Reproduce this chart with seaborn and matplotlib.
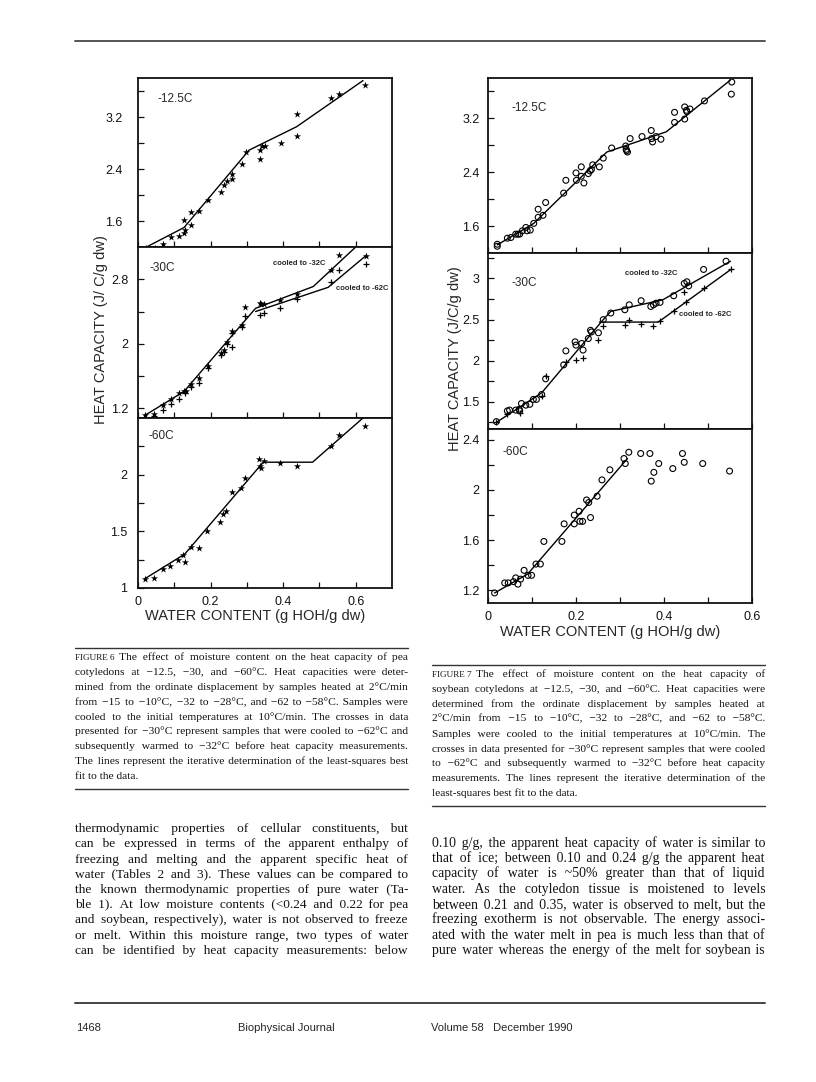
import numpy as np
import pandas as pd
import matplotlib
matplotlib.use("Agg")
import matplotlib.pyplot as plt
import seaborn as sns

sns.set_theme(style="white")
plt.rcParams['font.family'] = ['Liberation Sans', 'DejaVu Sans']

# ---------------- data ----------------
# FIGURE 6 (pea), -12.5C
pea12_x = [0.023, 0.046, 0.069, 0.090, 0.113, 0.127, 0.127, 0.130, 0.147, 0.147, 0.168, 0.193, 0.229,
           0.236, 0.245, 0.260, 0.260, 0.287, 0.297, 0.336, 0.337, 0.342, 0.349, 0.393, 0.438, 0.438,
           0.532, 0.555, 0.626]
pea12_y = [1.19, 1.18, 1.24, 1.36, 1.37, 1.61, 1.42, 1.46, 1.74, 1.54, 1.75, 1.92, 2.05,
           2.16, 2.21, 2.24, 2.33, 2.47, 2.66, 2.69, 2.56, 2.76, 2.75, 2.80, 3.25, 2.91,
           3.49, 3.55, 3.69]
pea12_fit_x = [0.020, 0.127, 0.306, 0.437, 0.620]
pea12_fit_y = [1.19, 1.50, 2.69, 3.05, 3.76]

# FIGURE 6, -30C  (stars: cooled to -32C, crosses: cooled to -62C)
pea30a_x = [0.018, 0.043, 0.069, 0.090, 0.113, 0.127, 0.131, 0.147, 0.168, 0.193, 0.229, 0.236,
            0.245, 0.260, 0.287, 0.296, 0.336, 0.340, 0.348, 0.391, 0.439, 0.531, 0.554, 0.628]
pea30a_y = [1.12, 1.13, 1.24, 1.31, 1.39, 1.41, 1.41, 1.50, 1.57, 1.73, 1.88, 1.92,
            2.02, 2.16, 2.23, 2.46, 2.51, 2.49, 2.49, 2.54, 2.62, 2.92, 3.10, 3.09]
pea30b_x = [0.043, 0.069, 0.090, 0.113, 0.129, 0.147, 0.168, 0.193, 0.229, 0.236, 0.245, 0.260,
            0.260, 0.287, 0.296, 0.337, 0.347, 0.391, 0.439, 0.531, 0.554, 0.628]
pea30b_y = [1.11, 1.18, 1.25, 1.31, 1.39, 1.46, 1.52, 1.70, 1.86, 1.90, 2.00, 1.96,
            2.14, 2.21, 2.35, 2.36, 2.38, 2.44, 2.55, 2.76, 2.91, 2.99]
pea30a_fit_x = [0.018, 0.127, 0.324, 0.483, 0.600]
pea30a_fit_y = [1.11, 1.41, 2.44, 2.71, 3.20]
pea30b_fit_x = [0.324, 0.524, 0.630]
pea30b_fit_y = [2.40, 2.70, 3.10]

# FIGURE 6, -60C
pea60_x = [0.018, 0.043, 0.069, 0.087, 0.110, 0.124, 0.129, 0.147, 0.168, 0.191, 0.227, 0.234,
           0.243, 0.259, 0.285, 0.295, 0.334, 0.337, 0.340, 0.347, 0.391, 0.437, 0.531, 0.554, 0.626]
pea60_y = [1.08, 1.09, 1.17, 1.19, 1.25, 1.29, 1.23, 1.36, 1.35, 1.50, 1.58, 1.65,
           1.68, 1.85, 1.88, 1.97, 2.14, 2.08, 2.06, 2.12, 2.10, 2.08, 2.25, 2.35, 2.43]
pea60_fit_x = [0.018, 0.129, 0.345, 0.481, 0.620]
pea60_fit_y = [1.08, 1.30, 2.11, 2.11, 2.50]

# FIGURE 7 (soybean), -12.5C
soy12_x = [0.021, 0.021, 0.044, 0.052, 0.063, 0.068, 0.072, 0.078, 0.086, 0.089, 0.096, 0.104,
           0.114, 0.114, 0.125, 0.131, 0.172, 0.177, 0.200, 0.201, 0.212, 0.212, 0.218, 0.228,
           0.232, 0.235, 0.238, 0.253, 0.262, 0.281, 0.313, 0.314, 0.315, 0.317, 0.323, 0.350,
           0.371, 0.372, 0.374, 0.382, 0.393, 0.424, 0.424, 0.447, 0.447, 0.451, 0.452, 0.459,
           0.492, 0.553, 0.554]
soy12_y = [1.30, 1.33, 1.42, 1.43, 1.48, 1.48, 1.48, 1.53, 1.58, 1.53, 1.54, 1.64,
           1.85, 1.73, 1.76, 1.95, 2.09, 2.28, 2.39, 2.28, 2.48, 2.34, 2.24, 2.38,
           2.42, 2.44, 2.51, 2.48, 2.61, 2.76, 2.79, 2.74, 2.72, 2.70, 2.90, 2.93,
           3.02, 2.90, 2.85, 2.93, 2.89, 3.14, 3.29, 3.37, 3.19, 3.32, 3.30, 3.34,
           3.46, 3.56, 3.74]
soy12_fit_x = [0.021, 0.104, 0.270, 0.405, 0.551]
soy12_fit_y = [1.32, 1.64, 2.70, 3.00, 3.77]

# FIGURE 7, -30C (circles: cooled to -32C, crosses: cooled to -62C)
soy30a_x = [0.019, 0.044, 0.049, 0.063, 0.071, 0.072, 0.076, 0.086, 0.095, 0.103, 0.110, 0.122,
            0.131, 0.172, 0.177, 0.198, 0.200, 0.213, 0.216, 0.228, 0.233, 0.235, 0.251, 0.262,
            0.279, 0.311, 0.321, 0.348, 0.370, 0.376, 0.382, 0.391, 0.422, 0.446, 0.452, 0.456,
            0.490, 0.541]
soy30a_y = [1.26, 1.39, 1.40, 1.40, 1.41, 1.39, 1.48, 1.46, 1.47, 1.53, 1.53, 1.59,
            1.78, 1.95, 2.12, 2.23, 2.19, 2.21, 2.13, 2.27, 2.37, 2.35, 2.34, 2.50,
            2.58, 2.62, 2.68, 2.73, 2.66, 2.68, 2.70, 2.71, 2.79, 2.94, 2.96, 2.91,
            3.11, 3.21]
soy30b_x = [0.019, 0.044, 0.072, 0.122, 0.131, 0.177, 0.201, 0.216, 0.251, 0.262, 0.311, 0.321,
            0.348, 0.375, 0.391, 0.422, 0.446, 0.450, 0.490, 0.553]
soy30b_y = [1.25, 1.35, 1.37, 1.57, 1.82, 1.99, 2.01, 2.03, 2.25, 2.42, 2.44, 2.49,
            2.45, 2.42, 2.48, 2.61, 2.84, 2.72, 2.88, 3.11]
soy30a_fit_x = [0.019, 0.122, 0.262, 0.279, 0.397, 0.551]
soy30a_fit_y = [1.25, 1.61, 2.50, 2.60, 2.74, 3.21]
soy30b_fit_x = [0.253, 0.387, 0.552]
soy30b_fit_y = [2.47, 2.47, 3.11]

# FIGURE 7, -60C
soy60_x = [0.015, 0.038, 0.046, 0.058, 0.063, 0.068, 0.074, 0.082, 0.091, 0.099, 0.109, 0.119,
           0.127, 0.168, 0.173, 0.196, 0.196, 0.207, 0.209, 0.215, 0.224, 0.229, 0.233, 0.248,
           0.259, 0.277, 0.309, 0.312, 0.320, 0.347, 0.368, 0.371, 0.377, 0.388, 0.420, 0.442,
           0.446, 0.488, 0.549]
soy60_y = [1.18, 1.26, 1.26, 1.27, 1.30, 1.25, 1.29, 1.36, 1.32, 1.32, 1.41, 1.41,
           1.59, 1.59, 1.73, 1.73, 1.80, 1.83, 1.75, 1.75, 1.92, 1.90, 1.78, 1.95,
           2.08, 2.16, 2.25, 2.21, 2.30, 2.29, 2.29, 2.07, 2.14, 2.21, 2.17, 2.29,
           2.22, 2.21, 2.15]
soy60_fit_x = [0.015, 0.090, 0.317]
soy60_fit_y = [1.18, 1.33, 2.25]

x_ticks = [0, 0.1, 0.2, 0.3, 0.4, 0.5, 0.6]
x_tick_labels = ['0', '', '0.2', '', '0.4', '', '0.6']

# ---------------- page layout ----------------
W, H = 816, 1082
fig = plt.figure(figsize=(W / 100, H / 100), dpi=100)
fig.patch.set_facecolor('white')


def fx(x):
    return x / W


def fy(y):
    return 1 - y / H


def make_ax(x0, y0, x1, y1, ypad=6):
    ax = fig.add_axes([fx(x0), fy(y1), (x1 - x0) / W, (y1 - y0) / H])
    ax.set_facecolor('white')
    for s in ax.spines.values():
        s.set_color('#111111')
        s.set_linewidth(1.3)
    ax.tick_params(direction='in', length=4, width=0.9, colors='#111111',
                   labelsize=9, pad=6, bottom=True, left=True)
    ax.tick_params(axis='y', pad=ypad)
    return ax


def stars(ax, x, y):
    sns.scatterplot(x=x, y=y, ax=ax, marker='*', s=30, color='black', linewidth=0)


def crosses(ax, x, y):
    sns.scatterplot(x=x, y=y, ax=ax, marker='+', s=22, color='black', linewidth=0.9)


def circles(ax, x, y):
    sns.scatterplot(x=x, y=y, ax=ax, marker='o', s=18, facecolor='none',
                    edgecolor='black', linewidth=0.8)


def fit(ax, x, y):
    df = pd.DataFrame({'x': x, 'y': y})
    sns.lineplot(data=df, x='x', y='y', ax=ax, sort=False, estimator=None,
                 color='black', linewidth=1.0)


def finish(ax, xlim, ylim, yticks, ylabels, show_x):
    ax.set_xlim(*xlim)
    ax.set_ylim(*ylim)
    ax.set_xticks(x_ticks)
    ax.set_xticklabels(x_tick_labels if show_x else [''] * len(x_ticks))
    ax.set_yticks(yticks)
    ax.set_yticklabels(ylabels)
    ax.set_xlabel('')
    ax.set_ylabel('')


# FIGURE 6
a1 = make_ax(138, 78, 392, 247, ypad=11)
stars(a1, pea12_x, pea12_y)
fit(a1, pea12_fit_x, pea12_fit_y)
finish(a1, (0, 0.7), (1.2, 3.8), [1.2, 1.6, 2.0, 2.4, 2.8, 3.2, 3.6],
       ['', '1.6', '', '2.4', '', '3.2', ''], False)
a1.text(0.055, 3.48, '-12.5C', fontsize=8.5, va='center')

a2 = make_ax(138, 247, 392, 418, ypad=7)
stars(a2, pea30a_x, pea30a_y)
crosses(a2, pea30b_x, pea30b_y)
fit(a2, pea30a_fit_x, pea30a_fit_y)
fit(a2, pea30b_fit_x, pea30b_fit_y)
finish(a2, (0, 0.7), (1.08, 3.2), [1.2, 1.6, 2.0, 2.4, 2.8],
       ['1.2', '', '2', '', '2.8'], False)
a2.text(0.032, 2.94, '-30C', fontsize=8.5, va='center')
a2.text(0.373, 2.99, 'cooled to -32C', fontsize=5.5, va='center', fontweight='bold')
a2.text(0.547, 2.68, 'cooled to -62C', fontsize=5.5, va='center', fontweight='bold')

a3 = make_ax(138, 418, 392, 588, ypad=8)
stars(a3, pea60_x, pea60_y)
fit(a3, pea60_fit_x, pea60_fit_y)
finish(a3, (0, 0.7), (1.0, 2.5), [1.0, 1.25, 1.5, 1.75, 2.0, 2.25],
       ['1', '', '1.5', '', '2', ''], True)
a3.text(0.028, 2.345, '-60C', fontsize=8.5, va='center')

# FIGURE 7
b1 = make_ax(488, 78, 752, 253)
circles(b1, soy12_x, soy12_y)
fit(b1, soy12_fit_x, soy12_fit_y)
finish(b1, (0, 0.6), (1.2, 3.8), [1.2, 1.6, 2.0, 2.4, 2.8, 3.2, 3.6],
       ['', '1.6', '', '2.4', '', '3.2', ''], False)
b1.text(0.053, 3.35, '-12.5C', fontsize=8.5, va='center')

b2 = make_ax(488, 253, 752, 429)
circles(b2, soy30a_x, soy30a_y)
crosses(b2, soy30b_x, soy30b_y)
fit(b2, soy30a_fit_x, soy30a_fit_y)
fit(b2, soy30b_fit_x, soy30b_fit_y)
finish(b2, (0, 0.6), (1.17, 3.31), [1.25, 1.5, 1.75, 2.0, 2.25, 2.5, 2.75, 3.0, 3.25],
       ['', '1.5', '', '2', '', '2.5', '', '3', ''], False)
b2.text(0.053, 2.94, '-30C', fontsize=8.5, va='center')
b2.text(0.311, 3.06, 'cooled to -32C', fontsize=5.5, va='center', fontweight='bold')
b2.text(0.435, 2.56, 'cooled to -62C', fontsize=5.5, va='center', fontweight='bold')

b3 = make_ax(488, 429, 752, 603)
circles(b3, soy60_x, soy60_y)
fit(b3, soy60_fit_x, soy60_fit_y)
finish(b3, (0, 0.6), (1.1, 2.485), [1.2, 1.4, 1.6, 1.8, 2.0, 2.2, 2.4],
       ['1.2', '', '1.6', '', '2', '', '2.4'], True)
b3.text(0.034, 2.30, '-60C', fontsize=8.5, va='center')

# axis titles
fig.text(fx(101), fy(330), 'HEAT CAPACITY (J/ C/g dw)', rotation=90,
         ha='center', va='center', fontsize=10.5)
fig.text(fx(455), fy(359), 'HEAT CAPACITY (J/C/g dw)', rotation=90,
         ha='center', va='center', fontsize=10.5)
fig.text(fx(255), fy(616), 'WATER CONTENT (g HOH/g dw)', ha='center', va='center', fontsize=10.5)
fig.text(fx(610), fy(632), 'WATER CONTENT (g HOH/g dw)', ha='center', va='center', fontsize=10.5)

# ---------------- text blocks ----------------
cap6 = [
    'The effect of moisture content on the heat capacity of pea',
    'cotyledons at \u221212.5, \u221230, and \u221260\u00b0C. Heat capacities were deter-',
    'mined from the ordinate displacement by samples heated at 2\u00b0C/min',
    'from \u221215 to \u221210\u00b0C, \u221232 to \u221228\u00b0C, and \u221262 to \u221258\u00b0C. Samples were',
    'cooled to the initial temperatures at 10\u00b0C/min. The crosses in data',
    'presented for \u221230\u00b0C represent samples that were cooled to \u221262\u00b0C and',
    'subsequently warmed to \u221232\u00b0C before heat capacity measurements.',
    'The lines represent the iterative determination of the least-squares best',
    'fit to the data.',
]
cap7 = [
    'The effect of moisture content on the heat capacity of',
    'soybean cotyledons at \u221212.5, \u221230, and \u221260\u00b0C. Heat capacities were',
    'determined from the ordinate displacement by samples heated at',
    '2\u00b0C/min from \u221215 to \u221210\u00b0C, \u221232 to \u221228\u00b0C, and \u221262 to \u221258\u00b0C.',
    'Samples were cooled to the initial temperatures at 10\u00b0C/min. The',
    'crosses in data presented for \u221230\u00b0C represent samples that were cooled',
    'to \u221262\u00b0C and subsequently warmed to \u221232\u00b0C before heat capacity',
    'measurements. The lines represent the iterative determination of the',
    'least-squares best fit to the data.',
]
body_left = [
    'thermodynamic properties of cellular constituents, but',
    'can be expressed in terms of the apparent enthalpy of',
    'freezing and melting and the apparent specific heat of',
    'water (Tables 2 and 3). These values can be compared to',
    'the known thermodynamic properties of pure water (Ta-',
    'ble 1). At low moisture contents (<0.24 and 0.22 for pea',
    'and soybean, respectively), water is not observed to freeze',
    'or melt. Within this moisture range, two types of water',
    'can be identified by heat capacity measurements: below',
]
body_right = [
    '0.10 g/g, the apparent heat capacity of water is similar to',
    'that of ice; between 0.10 and 0.24 g/g the apparent heat',
    'capacity of water is ~50% greater than that of liquid',
    'water. As the cotyledon tissue is moistened to levels',
    'between 0.21 and 0.35, water is observed to melt, but the',
    'freezing exotherm is not observable. The energy associ-',
    'ated with the water melt in pea is much less than that of',
    'pure water whereas the energy of the melt for soybean is',
]

renderer = fig.canvas.get_renderer()
SERIF = ['Liberation Serif', 'DejaVu Serif']
HAIR = '\u200a'


def measure(s, size):
    t = fig.text(0, 0, s, fontsize=size, family=SERIF)
    w = t.get_window_extent(renderer).width
    t.remove()
    return w


def justified(words, width, size):
    # pad the word gaps with hair spaces so the line fills the width
    line = ' '.join(words)
    n = len(words) - 1
    if n < 1:
        return line
    hair = measure('x' + HAIR + 'x', size) - measure('xx', size)
    if hair < 0.3:
        return line
    extra = width - measure(line, size)
    k = max(0, int(round(extra / hair)))
    out = words[0]
    for i, w in enumerate(words[1:]):
        out += ' ' + HAIR * (k // n + (1 if i < k % n else 0)) + w
    return out


def block(lines, x0, x1, y0, dy, size0, first=None, last_just=False, fill=0.985):
    pre_w = 0
    if first:
        pre_w = measure(first, size0 * 0.8) + size0 * 0.5
    # choose the size so the tightest justified line just fits
    ratios = []
    for i, ln in enumerate(lines):
        if last_just or i < len(lines) - 1:
            avail = (x1 - x0) - (pre_w if i == 0 else 0)
            ratios.append(measure(ln, size0) / avail)
    size = size0 / max(ratios) * fill
    for i, ln in enumerate(lines):
        xs = x0
        if i == 0 and first:
            fig.text(fx(x0), fy(y0), first, fontsize=size * 0.8, family=SERIF,
                     va='baseline', color='#111111')
            xs = x0 + measure(first, size * 0.8) + size * 0.55
        words = ln.split(' ')
        if last_just or i < len(lines) - 1:
            txt = justified(words, x1 - xs, size)
        else:
            txt = ln
        fig.text(fx(xs), fy(y0 + i * dy), txt, fontsize=size, family=SERIF,
                 va='baseline', color='#111111')


block(cap6, 75, 408, 660, 14.9, 8.0, first='FIGURE 6', fill=0.97)
block(cap7, 432, 765, 677, 14.9, 8.0, first='FIGURE 7', fill=0.97)
block(body_left, 75, 408, 832, 15.25, 9.5, last_just=True, fill=0.95)
block(body_right, 432, 765, 847, 15.25, 9.5, last_just=True, fill=0.95)


# rules
def rule(x0, x1, y, lw=1.0, c='#333333'):
    fig.add_artist(plt.Line2D([fx(x0), fx(x1)], [fy(y), fy(y)], color=c, linewidth=lw))


rule(75, 765, 41, 1.4, '#555555')
rule(75, 408, 648, 1.0)
rule(75, 408, 789, 1.0)
rule(432, 765, 665, 1.0)
rule(432, 765, 806, 1.0)
rule(75, 765, 1003, 1.4, '#444444')

# footer
fig.text(fx(76), fy(1031), '1468', fontsize=8, va='baseline')
fig.text(fx(286), fy(1031), 'Biophysical Journal', fontsize=8, va='baseline', ha='center')
fig.text(fx(431), fy(1031), 'Volume 58   December 1990', fontsize=8, va='baseline')

fig.savefig('out.png', dpi=100, facecolor='white')
